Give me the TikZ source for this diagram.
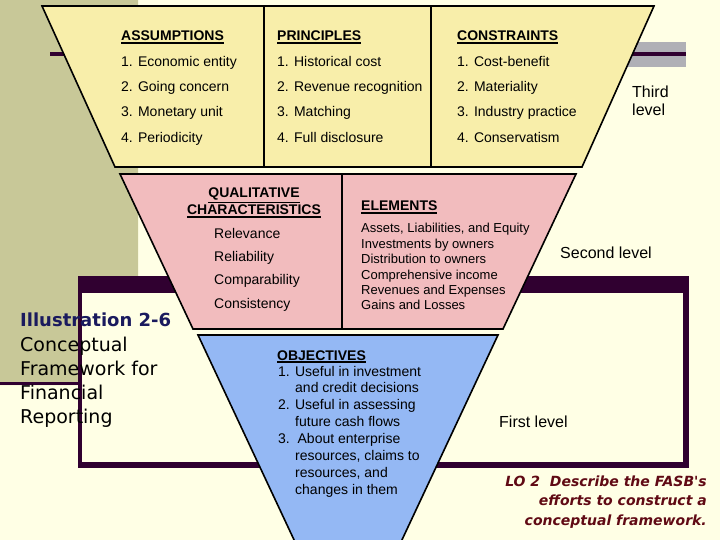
\documentclass[tikz,border=0pt]{standalone}
\usepackage{fontspec}
\setmainfont{Liberation Sans}
\newfontfamily\comicfont{DejaVu Sans}
\usepackage{tikz}

\definecolor{fondo}{RGB}{255,255,229}
\definecolor{oliva}{RGB}{200,200,152}
\definecolor{morado}{RGB}{48,0,48}
\definecolor{gris}{RGB}{176,176,182}
\definecolor{amarillo}{RGB}{248,238,170}
\definecolor{rosa}{RGB}{242,188,190}
\definecolor{azul}{RGB}{148,184,244}
\definecolor{marino}{RGB}{26,26,94}
\definecolor{granate}{RGB}{96,10,20}

\newcommand{\subrayado}[1]{\leavevmode\vtop{\hbox{#1}\kern1.3pt\hrule height 1.1pt}}

\tikzset{
  head/.style={anchor=base west, inner sep=0pt, font=\fontsize{14}{17}\selectfont\bfseries},
  lista/.style={anchor=north west, inner sep=0pt, align=left},
  nivel/.style={inner sep=0pt, font=\fontsize{16}{18}\selectfont},
  borde/.style={draw=black, line width=1.6pt, line join=miter},
}

\begin{document}
\begin{tikzpicture}[x=1pt,y=-1pt]
% Fondo
\clip (0,0) rectangle (720,540);
\fill[fondo] (0,0) rectangle (720,540);
% Bloque de la plantilla
\fill[oliva] (0,0) -- (138,0) -- (138,276) -- (78,276) -- (78,385) -- (0,385) -- cycle;
\fill[morado] (0,382) rectangle (78,385);
% Marco
\fill[morado] (78,276) rectangle (689,468);
\fill[fondo] (82,293) rectangle (683,462);
% Linea superior
\fill[gris] (600,42) rectangle (686,67);
\fill[morado] (50,52) rectangle (686,56);

% Tercer nivel
\filldraw[borde, fill=amarillo] (42,6) -- (654,6) -- (582,167) -- (115,167) -- cycle;
\draw[line width=1.6pt] (264,6) -- (264,167);
\draw[line width=1.6pt] (431,6) -- (431,167);
% Segundo nivel
\filldraw[borde, fill=rosa] (120,174) -- (576,174) -- (503,329) -- (193,329) -- cycle;
\draw[line width=1.6pt] (342,174) -- (342,329);
% Primer nivel
\filldraw[borde, fill=azul] (198,335) -- (498,335) -- (348,655) -- cycle;

% Columnas del tercer nivel
\node[head] (assumptions) at (121,41) {\subrayado{ASSUMPTIONS}};
\node[lista, font=\fontsize{14}{25.3}\selectfont] (assumptionsList) at (121,55.8)
  {1. Economic entity\\2. Going concern\\3. Monetary unit\\4. Periodicity};
\node[head] (principles) at (277,41) {\subrayado{PRINCIPLES}};
\node[lista, font=\fontsize{14}{25.3}\selectfont] (principlesList) at (277,55.8)
  {1. Historical cost\\2. Revenue recognition\\3. Matching\\4. Full disclosure};
\node[head] (constraints) at (457,41) {\subrayado{CONSTRAINTS}};
\node[lista, font=\fontsize{14}{25.3}\selectfont] (constraintsList) at (457,55.8)
  {1. Cost-benefit\\2. Materiality\\3. Industry practice\\4. Conservatism};

% Columnas del segundo nivel
\node[anchor=north, inner sep=0pt, align=center, font=\fontsize{14}{17}\selectfont\bfseries]
  (qualitative) at (254,188) {\subrayado{QUALITATIVE}\\\subrayado{CHARACTERISTICS}};
\node[lista, font=\fontsize{14}{23.3}\selectfont] (qualitativeList) at (214,227.8)
  {Relevance\\Reliability\\Comparability\\Consistency};
\node[head] (elements) at (361,211) {\subrayado{ELEMENTS}};
\node[lista, font=\fontsize{13}{15.4}\selectfont] (elementsList) at (361,223.2)
  {Assets, Liabilities, and Equity\\Investments by owners\\Distribution to owners\\Comprehensive income\\Revenues and Expenses\\Gains and Losses};

% Primer nivel
\node[head] (objectives) at (277,360) {\subrayado{OBJECTIVES}};
\node[lista, font=\fontsize{14}{16.85}\selectfont] (objectivesList) at (278,365.8)
  {1. Useful in investment\\\hspace*{17pt}and credit decisions\\2. Useful in assessing\\\hspace*{17pt}future cash flows\\3.\ \ About enterprise\\\hspace*{17pt}resources, claims to\\\hspace*{17pt}resources, and\\\hspace*{17pt}changes in them};

% Niveles
\node[nivel, lista] (third) at (632,86) {Third\\level};
\node[nivel, anchor=base west] (second) at (560,258.8) {Second level};
\node[nivel, anchor=base west] (first) at (499,427.8) {First level};

% Titulo de la ilustracion
\node[anchor=base west, inner sep=0pt, text=marino, font=\comicfont\bfseries\fontsize{18}{24}\selectfont]
  (illustration) at (20,326.6) {Illustration 2-6};
\node[lista, font=\comicfont\fontsize{19}{24}\selectfont] (framework) at (20,336.5)
  {Conceptual\\Framework for\\Financial\\Reporting};
% Objetivo de aprendizaje
\node[anchor=north east, inner sep=0pt, align=right, text=granate,
  font=\comicfont\bfseries\itshape\fontsize{14}{19.5}\selectfont] (lo) at (707,475.5)
  {LO 2\ \ Describe the FASB's\\efforts to construct a\\conceptual framework.};
\end{tikzpicture}
\end{document}
